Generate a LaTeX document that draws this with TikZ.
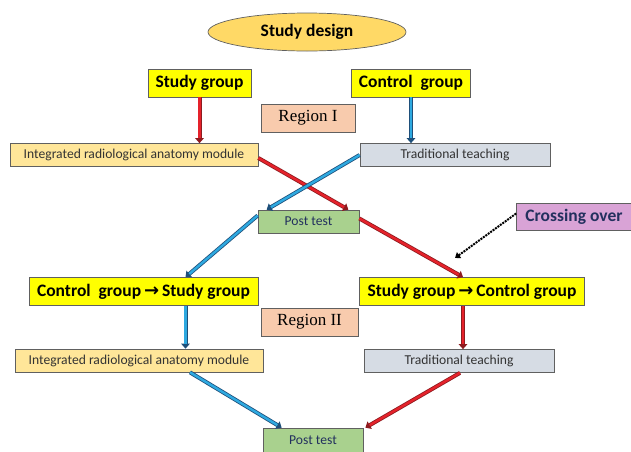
\documentclass[tikz,border=0pt]{standalone}
\usepackage{fontspec}
\setmainfont{Carlito}
\newfontfamily\regionfont{Liberation Serif}
\newfontfamily\arrowfont{DejaVu Sans}
\usetikzlibrary{arrows.meta,shapes.geometric}
\definecolor{designfill}{HTML}{FFD966}
\definecolor{groupfill}{HTML}{FFFF00}
\definecolor{regionfill}{HTML}{F8CBAD}
\definecolor{modulefill}{HTML}{FFE699}
\definecolor{teachfill}{HTML}{D6DCE4}
\definecolor{postfill}{HTML}{A9D18E}
\definecolor{crossfill}{HTML}{D9A3D6}
\definecolor{navytext}{HTML}{23305E}
\definecolor{redline}{HTML}{E5222B}
\definecolor{rededge}{HTML}{8E1B1F}
\definecolor{blueline}{HTML}{2EA9E0}
\definecolor{blueedge}{HTML}{1E4F7A}
\newcommand{\tosym}{\,{\arrowfont\bfseries\fontsize{18}{18}\selectfont →}\,}

\begin{document}
\begin{tikzpicture}[x=1pt,y=-1pt,
  box/.style={draw=gray!75!black,line width=0.7pt,inner sep=0pt,minimum height=23pt},
  groupbox/.style={box,fill=groupfill,minimum height=28pt,font=\fontsize{17.5}{19}\selectfont\bfseries},
  regionbox/.style={box,fill=regionfill,minimum height=28pt,font=\regionfont\fontsize{17}{19}\selectfont},
  plainbox/.style={box,font=\fontsize{13.6}{15}\selectfont,text=black!80},
  redflow/.style={draw=rededge,line width=4pt,-{Triangle[length=5pt,width=8.5pt]},
    postaction={draw=redline,line width=2.4pt,-,shorten >=5pt}},
  blueflow/.style={draw=blueedge,line width=4pt,-{Triangle[length=5pt,width=8.5pt]},
    postaction={draw=blueline,line width=2.4pt,-,shorten >=5pt}}]
  \useasboundingbox (0,0) rectangle (631,451);
  % title
  \node[ellipse,draw=gray!75!black,line width=0.7pt,fill=designfill,inner sep=0pt,
        minimum width=198pt,minimum height=38pt,font=\fontsize{17.5}{19}\selectfont\bfseries]
        (design) at (307,32) {Study design};
  % region I
  \node[groupbox,minimum width=103pt] (studyA) at (199.5,83) {Study group};
  \node[groupbox,minimum width=119pt] (controlA) at (411,83) {Control\ \ group};
  \node[regionbox,minimum width=94pt] (regionA) at (308,118) {Region I};
  \node[plainbox,fill=modulefill,minimum width=248pt] (moduleA) at (134,155) {Integrated radiological anatomy module};
  \node[plainbox,fill=teachfill,minimum width=190pt] (teachA) at (455,155) {Traditional teaching};
  \node[plainbox,fill=postfill,minimum width=101pt,text=navytext] (postA) at (308.5,221.5) {Post test};
  \node[box,fill=crossfill,minimum width=115pt,minimum height=27pt,text=navytext,
        font=\fontsize{17.5}{19}\selectfont\bfseries] (crossing) at (574,216.5) {Crossing over};
  % region II
  \node[groupbox,minimum width=229pt] (swapL) at (143.5,291.5) {Control\ \ group\tosym Study group};
  \node[groupbox,minimum width=225pt] (swapR) at (472,291.5) {Study group\tosym Control group};
  \node[regionbox,minimum width=97pt] (regionB) at (309.5,322) {Region II};
  \node[plainbox,fill=modulefill,minimum width=248pt] (moduleB) at (139,360.5) {Integrated radiological anatomy module};
  \node[plainbox,fill=teachfill,minimum width=190pt] (teachB) at (459,361) {Traditional teaching};
  \node[plainbox,fill=postfill,minimum width=100pt,minimum height=24pt,text=navytext] (postB) at (313,440) {Post test};
  % arrows of region I
  \draw[redflow] (studyA.south) -- (studyA.south |- moduleA.north);
  \draw[blueflow] (controlA.south) -- (controlA.south |- teachA.north);
  \draw[redflow] ([yshift=-3pt]moduleA.east) -- ([xshift=-11pt]postA.north east);
  \draw[blueflow] (teachA.west) -- ([xshift=9pt]postA.north west);
  % crossing over
  \draw[blueflow] ([yshift=6pt]postA.west) -- ([xshift=42pt]swapL.north);
  \draw[redflow] ([yshift=3pt]postA.east) -- ([xshift=-9pt]swapR.north);
  \coordinate (crossTip) at (455,258);
  \draw[black,line width=2pt,densely dotted,-{Triangle[length=5pt,width=7pt]}]
       ([yshift=3pt]crossing.west) -- (crossTip);
  % arrows of region II
  \draw[blueflow] ([xshift=42pt]swapL.south) -- ([xshift=42pt]swapL.south |- moduleB.north);
  \draw[redflow] ([xshift=-9pt]swapR.south) -- ([xshift=-9pt]swapR.south |- teachB.north);
  \draw[blueflow] ([xshift=51pt]moduleB.south) -- ([xshift=19pt]postB.north west);
  \draw[redflow] ([xshift=1pt]teachB.south) -- ([xshift=2pt]postB.north east);
\end{tikzpicture}
\end{document}
